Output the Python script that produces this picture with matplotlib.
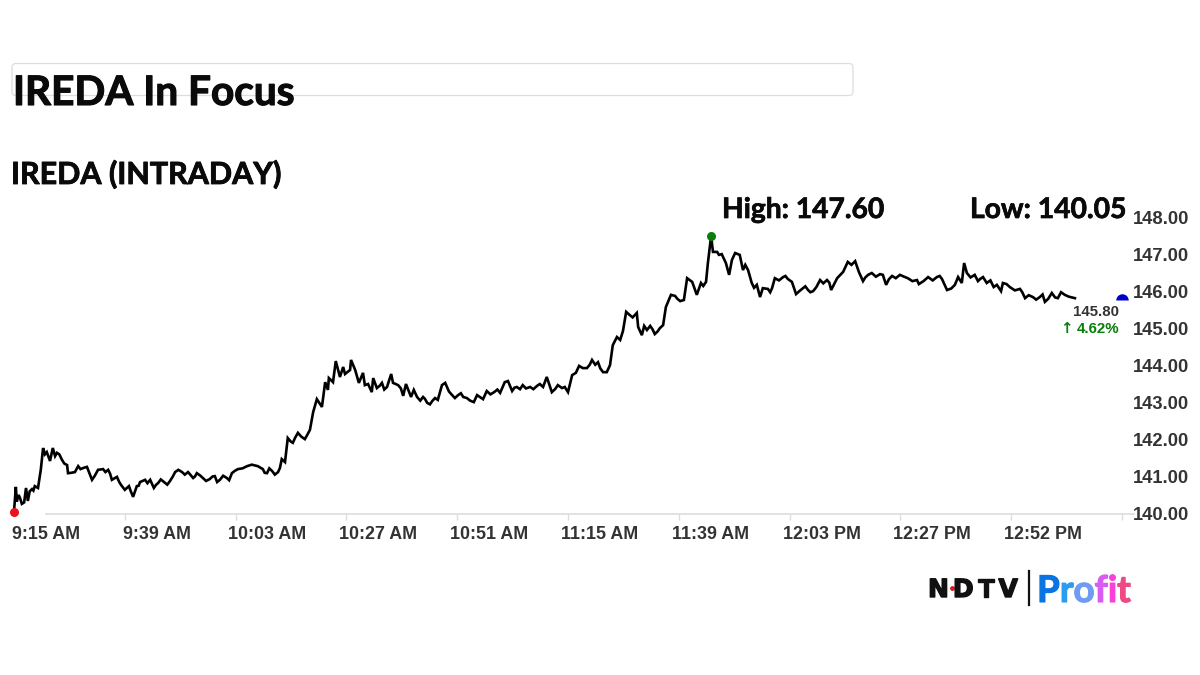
import matplotlib
matplotlib.use('Agg')
import matplotlib.pyplot as plt
import matplotlib.patheffects as pe
from matplotlib.patches import FancyBboxPatch
from matplotlib.transforms import ScaledTranslation

# minutes after the 9:15 open, price
minutes = [0, .4, .6, 1.3, 1.7, 2.6, 3.0, 3.9, 4.5, 5.2, 5.8, 6.3, 7.1, 7.8, 8.4, 9.3, 10.4, 11.5, 11.7, 13.2,
           13.9, 15, 15.8, 16.9, 18.2, 19.3, 20.4, 21.2, 22.3, 23.2, 24, 24.9, 25.8, 26.6, 27.3, 28.4, 29.5, 30.3, 31.2, 32.5,
           33.8, 34.9, 36.4, 37.7, 38.8, 39.6, 40.9, 42.4, 43.5, 44.6, 46.1, 47.2, 48.5, 50.5, 52.8, 53.9, 54.8, 55.9, 57.2, 57.6,
           58, 58.7, 59.3, 60.4, 61.5, 63, 64.1, 64.8, 65.6, 66.7, 67.4, 68, 68.2, 69.1, 69.7, 70.6, 71.3, 71.7, 72.8, 73,
           73.9, 74.7, 75.6, 76, 76.7, 77.5, 77.8, 78.6, 79.7, 80.8, 81.7, 82.1, 83.2, 84.3, 84.9, 86, 86.6, 87.3, 88.6, 89.5,
           90.6, 91.8, 92.7, 93.4, 94.9, 96.2, 97.3, 98.1, 99.6, 100.3, 101.6, 102.4, 104, 105.3, 106.3, 107, 107.9, 108.9, 109.6, 110.2,
           111.8, 113.3, 114.6, 115.4, 116.5, 117.8, 118.7, 120, 120.9, 121.7, 122.4, 123.2, 124.1, 125.2, 126.5, 127.6, 128.4, 129.1, 129.7, 130.6,
           131.3, 131.9, 132.6, 133.4, 134.9, 135.2, 136, 136.5, 137.8, 138.8, 139.9, 140.6, 141.2, 142.3, 143.2, 144.3, 145.1, 145.8, 146.9, 147.9,
           148.8, 149.9, 150.3, 151, 151.4, 152.3, 152.7, 153.3, 154.2, 154.9, 156.2, 157.2, 157.9, 159, 159.8, 160.9, 161.6, 162.2, 163.3, 164.2,
           164.8, 166.6, 167.6, 168.5, 169.4, 170.9, 172, 173.1, 174.6, 176.1, 177, 178.3, 179.6, 180.6, 182.2, 183, 183.9, 185, 185.8, 187.6,
           188.2, 188.9, 190.2, 191.9, 193.6, 195.6, 196, 198, 199.9, 201, 202.1, 203.8, 204.5, 205.3, 205.8, 206.4, 208.1, 208.8, 209.9, 210.7,
           212.9, 213.8, 214.2, 215.7, 217.9, 219, 220.7, 222.2, 223.3, 224.8, 226.1, 227.6, 229.8]
prices = [140.05, 140.72, 140.32, 140.42, 140.26, 140.69, 140.34, 140.66, 140.74, 140.69, 141.18, 141.77, 141.66, 141.42, 141.77, 141.64, 141.45, 141.31, 141.09, 141.12,
          141.28, 141.23, 141.26, 140.91, 141.18, 141.2, 141.18, 140.91, 140.99, 140.77, 140.64, 140.74, 140.45, 140.74, 140.85, 140.91, 140.91, 140.69, 140.82, 140.85,
          140.88, 141.12, 141.12, 141.12, 140.96, 141.09, 140.96, 140.93, 141.01, 140.91, 140.96, 141.09, 141.2, 141.28, 141.28, 141.2, 141.09, 141.15, 141.12, 141.23,
          141.47, 141.39, 142.04, 141.91, 142.18, 142.01, 142.26, 142.74, 143.09, 142.88, 143.55, 143.34, 143.66, 143.55, 144.12, 143.69, 143.96, 143.77, 143.88, 144.15,
          143.88, 143.53, 143.8, 143.47, 143.5, 143.28, 143.66, 143.39, 143.53, 143.42, 143.77, 143.53, 143.47, 143.18, 143.5, 143.15, 143.34, 143.15, 143.15, 142.99,
          143.04, 143.07, 143.47, 143.53, 143.2, 143.2, 143.15, 143.12, 143.01, 143.2, 143.09, 143.31, 143.28, 143.26, 143.55, 143.58, 143.31, 143.42, 143.36, 143.47,
          143.42, 143.45, 143.42, 143.69, 143.28, 143.47, 143.39, 143.28, 143.74, 143.8, 143.99, 143.93, 143.93, 144.15, 144.09, 143.82, 143.82, 144.01, 144.55, 144.77,
          144.69, 144.93, 145.45, 145.36, 145.42, 145.04, 144.82, 145.07, 145.07, 144.85, 145.01, 145.09, 145.58, 145.91, 145.88, 145.74, 145.77, 146.36, 146.26, 145.91,
          146.23, 146.26, 146.77, 147.5, 147.07, 147.07, 146.99, 147.01, 146.77, 146.45, 147.04, 146.99, 146.58, 146.58, 146.23, 146.18, 145.85, 146.09, 146.07, 146.09,
          146.36, 146.39, 146.34, 146.26, 145.93, 146.09, 146.04, 146.01, 146.31, 146.31, 146.04, 146.36, 146.53, 146.8, 146.82, 146.53, 146.28, 146.45, 146.5, 146.47,
          146.45, 146.18, 146.42, 146.45, 146.36, 146.31, 146.2, 146.39, 146.39, 146.34, 146.04, 146.18, 146.39, 146.23, 146.77, 146.5, 146.45, 146.28, 146.39, 146.23,
          146.18, 146.01, 146.23, 146.12, 146.07, 145.82, 145.85, 145.85, 145.72, 145.96, 145.82, 145.91, 145.82]

# small wiggles between the main readings
wiggle_minutes = [1.0, 2.2, 3.4, 4.2, 6.7, 8.9, 9.8, 10.9, 12.4, 14.4, 16.3, 17.5, 19.8, 20.8, 22.8, 25.3, 27.0, 28.9, 29.9, 30.8,
                  31.8, 33.2, 34.4, 35.6, 37, 39.2, 40.3, 41.6, 43, 44, 45.3, 46.6, 47.8, 49.5, 51.5, 54.3, 55.3, 56.5, 59.9, 60.9,
                  62.2, 63.5, 74.3, 79.2, 80.2, 83.8, 88, 89, 90.1, 91.2, 94.2, 95.5, 96.8, 98.8, 101, 103.2, 104.7, 108.4, 110.9, 112.5,
                  113.9, 117.2, 119.3, 124.7, 125.9, 127, 134, 137.1, 138.3, 139.4, 143.7, 149.3, 155.5, 158.4, 160.3, 163.8, 165.7, 167.1, 170.2, 171.4,
                  172.5, 173.8, 175.3, 176.6, 181.4, 184.4, 186.7, 189.5, 191, 192.8, 194.6, 197, 199, 200.5, 203, 207.2, 209.3, 211.5, 212.2, 215,
                  216.8, 218.4, 219.8, 221.4, 222.8, 224, 225.5, 226.8, 228.5]
wiggle_prices = [140.5, 140.3, 140.6, 140.62, 141.6, 141.55, 141.6, 141.35, 141.1, 141.2, 141.1, 141.02, 141.12, 141.08, 140.85, 140.6, 140.75, 140.82, 140.8, 140.78,
                 140.92, 140.78, 141.0, 141.18, 141.05, 141.0, 141.03, 140.88, 141.0, 140.85, 141.02, 140.9, 141.15, 141.22, 141.32, 141.1, 141.22, 141.05, 141.95, 142.05,
                 142.08, 142.12, 143.7, 143.45, 143.35, 143.38, 143.05, 143.1, 142.95, 143.12, 143.3, 143.12, 143.25, 143.05, 143.14, 143.22, 143.35, 143.4, 143.38, 143.36,
                 143.5, 143.36, 143.42, 144.02, 144.02, 143.92, 145.3, 144.96, 144.98, 144.92, 145.8, 146.15, 146.85, 146.72, 146.1, 145.98, 146.3, 146.42, 146.02, 146.14,
                 145.98, 146.12, 146.22, 146.24, 146.72, 146.38, 146.4, 146.33, 146.36, 146.4, 146.28, 146.28, 146.3, 146.42, 146.08, 146.38, 146.34, 146.3, 146.12, 146.2,
                 146.03, 145.98, 145.9, 145.78, 145.92, 145.8, 145.84, 145.98, 145.86]

tick_minutes = [0, 24, 48, 72, 96, 120, 144, 168, 192, 216, 240]
tick_labels = ['9:15 AM', '9:39 AM', '10:03 AM', '10:27 AM', '10:51 AM', '11:15 AM',
               '11:39 AM', '12:03 PM', '12:27 PM', '12:52 PM', '']
price_ticks = [140, 141, 142, 143, 144, 145, 146, 147, 148]

low_point = (0, 140.05)
high_point = (151, 147.5)
last_point = (240, 145.78)

W, H = 1200, 675
plt.rcParams['font.family'] = ['Liberation Sans', 'DejaVu Sans']
fig = plt.figure(figsize=(W / 100, H / 100), dpi=100, facecolor='white')

# overlay in picture pixels for the headings and the logo
bg = fig.add_axes([0, 0, 1, 1])
bg.set_xlim(0, W)
bg.set_ylim(H, 0)
bg.axis('off')

bg.add_patch(FancyBboxPatch((12, 63.5), 841, 32, boxstyle='round,pad=0,rounding_size=4',
                            fc='white', ec='#dddddd', lw=0.9))


def heading(x, y, s, size, stroke):
    bg.text(x, y, s, family='Lato', weight='bold', fontsize=size, color='#0a0a0a', va='baseline',
            path_effects=[pe.withStroke(linewidth=stroke, foreground='#0a0a0a')])


heading(13, 105, 'IREDA In Focus', 29.2, 0.8)
heading(11, 184, 'IREDA (INTRADAY)', 21.95, 0.6)
heading(722, 218, 'High: 147.60', 20.3, 0.5)
heading(970, 218, 'Low: 140.05', 20.35, 0.5)

# chart area
pts = sorted(zip(minutes + wiggle_minutes, prices + wiggle_prices))
ax = fig.add_axes([14 / W, 1 - 513.5 / H, 1108 / W, 296 / H])
ax.patch.set_alpha(0)
ax.plot([p[0] for p in pts], [p[1] for p in pts], color='black', lw=1.9, solid_joinstyle='miter', clip_on=False)
ax.plot(*low_point, 'o', color='#e8141c', ms=6.5, mew=0, clip_on=False, zorder=5)
ax.plot(*high_point, 'o', color='#0a7d0a', ms=6.5, mew=0, clip_on=False, zorder=5)
ax.plot(*last_point, 'o', color='#0000c8', ms=9, mew=0, fillstyle='top', markerfacecoloralt='none', clip_on=False, zorder=5)

ax.set_xlim(0, 240)
ax.set_ylim(140, 148)
for s in ['top', 'left', 'right']:
    ax.spines[s].set_visible(False)
ax.spines['bottom'].set_color('#dddddd')
ax.spines['bottom'].set_linewidth(1.2)
ax.spines['bottom'].set_bounds(7, 242.5)

ax.yaxis.tick_right()
ax.set_yticks(price_ticks, [f'{p:.2f}' for p in price_ticks])
ax.tick_params(axis='y', length=0, pad=7.6, labelsize=13.2, labelcolor='#333333')
ax.set_xticks(tick_minutes, tick_labels)
ax.tick_params(axis='x', length=4.5, width=1, color='#dddddd', pad=4.5, labelsize=12.9, labelcolor='#333333')
ax.xaxis.get_major_ticks()[0].tick1line.set_visible(False)
shift = ScaledTranslation(32 / 100, 0, fig.dpi_scale_trans)
for lab in ax.get_xticklabels():
    lab.set_transform(lab.get_transform() + shift)
    lab.set_fontweight('bold')
for lab in ax.get_yticklabels():
    lab.set_fontweight('bold')

bg.text(1119, 316, '145.80', ha='right', va='baseline', fontsize=10.8, weight='bold', color='#333333')
bg.text(1119, 333, '4.62%', ha='right', va='baseline', fontsize=10.8, weight='bold', color='#0a7d0a')
bg.text(1066, 333, '↑', ha='center', va='baseline', fontsize=10.8, weight='bold', family='DejaVu Sans', color='#0a7d0a')

# logo, letter by letter
fig.canvas.draw()
rend = fig.canvas.get_renderer()


def chain(letters, colors, x, y, size, gap, stroke):
    for ch, col in zip(letters, colors):
        t = bg.text(x, y, ch, weight='bold', fontsize=size, color=col, va='baseline',
                    path_effects=[pe.withStroke(linewidth=stroke, foreground=col)])
        x += t.get_window_extent(rend).width + gap


plt.rcParams['font.family'] = ['DejaVu Sans']
chain('NDTV', ['#111111'] * 4, 928, 597, 18, 4, 1.0)
bg.plot([952], [588], 'o', color='#e8141c', ms=3.5, mew=0)
bg.plot([1029, 1029], [571, 605], color='#111111', lw=1.6)
plt.rcParams['font.family'] = ['Lato']
chain('Profit', ['#0a74e2', '#2c9cf0', '#6f9cf2', '#d85cf2', '#fb3fd8', '#ee4a86'], 1037, 602, 26.5, 0, 0.8)

fig.savefig('out.png', dpi=100)
